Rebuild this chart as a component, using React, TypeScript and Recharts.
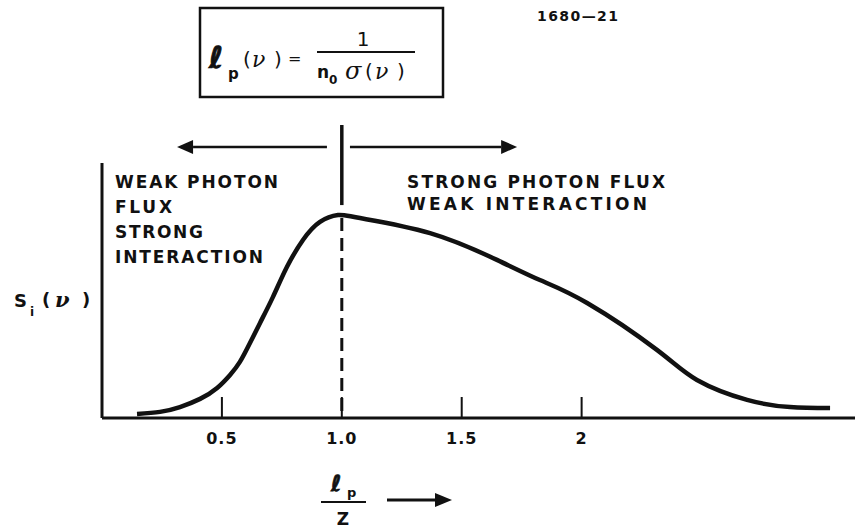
import React from "react";
import { ComposedChart, Line, XAxis, YAxis, ReferenceLine } from "recharts";

// curve samples: x = l_p / Z, s = S_i(nu) (relative)
const xValues = [0.146, 0.242, 0.325, 0.409, 0.48, 0.534, 0.575, 0.617, 0.659, 0.713, 0.771, 0.838, 0.909, 0.984, 1.076, 1.368, 1.647, 1.826, 2.023, 2.314, 2.481, 2.69, 2.869, 3.036];
const sValues = [0.016, 0.024, 0.043, 0.075, 0.118, 0.169, 0.22, 0.294, 0.373, 0.475, 0.592, 0.698, 0.769, 0.796, 0.784, 0.725, 0.62, 0.541, 0.451, 0.267, 0.149, 0.071, 0.043, 0.039];

const tickValues = [0.5, 1.0, 1.5, 2];
const tickLabels = ["0.5", "1.0", "1.5", "2"];

const peakX = 1.0;
const arrowY = 1.063;
const leftArrow = [0.938, 0.313];
const rightArrow = [1.034, 1.731];
const solidMark = [1.149, 0.835];
const dashedMark = [0.784, 0];

const data = xValues.map((x, i) => ({ x, s: sValues[i] }));

const INK = "#111";
const FONT = "'DejaVu Sans', 'Liberation Sans', sans-serif";
const SERIF = "'DejaVu Serif', serif";

function XTick(props: any) {
  const { x, y, payload } = props;
  const idx = tickValues.indexOf(payload.value);
  const label = idx >= 0 ? tickLabels[idx] : String(payload.value);
  return (
    <g>
      <line x1={x} x2={x} y1={y} y2={y - 21} stroke={INK} strokeWidth={2} />
      <text x={x} y={y + 26} textAnchor="middle" fontFamily={FONT} fontWeight="bold" fontSize={16} fill={INK} letterSpacing={1}>
        {label}
      </text>
    </g>
  );
}

function ArrowShape(props: any) {
  const { x1, y1, x2, y2 } = props;
  const dx = x2 - x1;
  const dy = y2 - y1;
  const len = Math.sqrt(dx * dx + dy * dy) || 1;
  const ux = dx / len;
  const uy = dy / len;
  const hl = 16;
  const hw = 7;
  const bx = x2 - ux * hl;
  const by = y2 - uy * hl;
  const pts = `${x2},${y2} ${bx - uy * hw},${by + ux * hw} ${bx + uy * hw},${by - ux * hw}`;
  return (
    <g>
      <line x1={x1} y1={y1} x2={bx} y2={by} stroke={INK} strokeWidth={2.5} />
      <polygon points={pts} fill={INK} />
    </g>
  );
}

export default function App() {
  return (
    <div style={{ position: "absolute", left: 0, top: 0, width: 855, height: 529, background: "#fff" }}>
      <ComposedChart width={855} height={529} data={data} margin={{ top: 163, right: 0, bottom: 0, left: 0 }}>
        <XAxis
          type="number"
          dataKey="x"
          domain={[0, 3.14]}
          ticks={tickValues}
          interval={0}
          height={111}
          tickSize={0}
          tickMargin={0}
          tickLine={false}
          tick={<XTick />}
          axisLine={{ stroke: INK, strokeWidth: 3 }}
          allowDataOverflow
        />
        <YAxis
          type="number"
          domain={[0, 1]}
          width={102}
          tick={false}
          tickLine={false}
          axisLine={{ stroke: INK, strokeWidth: 3 }}
          allowDataOverflow
        />
        <ReferenceLine
          segment={[{ x: peakX, y: dashedMark[0] }, { x: peakX, y: dashedMark[1] }]}
          stroke={INK}
          strokeWidth={3}
          strokeDasharray="13 7"
          ifOverflow="visible"
        />
        <ReferenceLine
          segment={[{ x: peakX, y: solidMark[0] }, { x: peakX, y: solidMark[1] }]}
          stroke={INK}
          strokeWidth={3.5}
          ifOverflow="visible"
        />
        <ReferenceLine
          segment={[{ x: leftArrow[0], y: arrowY }, { x: leftArrow[1], y: arrowY }]}
          ifOverflow="visible"
          shape={ArrowShape}
        />
        <ReferenceLine
          segment={[{ x: rightArrow[0], y: arrowY }, { x: rightArrow[1], y: arrowY }]}
          ifOverflow="visible"
          shape={ArrowShape}
        />
        <Line
          type="natural"
          dataKey="s"
          stroke={INK}
          strokeWidth={4.5}
          dot={false}
          isAnimationActive={false}
        />
      </ComposedChart>
      <svg width={855} height={529} style={{ position: "absolute", left: 0, top: 0, pointerEvents: "none" }} fontFamily={FONT} fill={INK}>
        {/* formula box */}
        <rect x={200} y={8} width={243} height={89} fill="none" stroke={INK} strokeWidth={2.5} />
        <text x={209} y={68} fontSize={30} fontWeight="bold" fontStyle="italic" fontFamily={FONT} stroke={INK} strokeWidth={1}>ℓ</text>
        <text x={228} y={79} fontSize={15} fontWeight="bold">p</text>
        <text x={243} y={66} fontSize={20}>(</text>
        <text x={252} y={67} fontSize={22} fontStyle="italic" fontFamily={SERIF}>ν</text>
        <text x={274} y={66} fontSize={20}>)</text>
        <text x={288} y={64} fontSize={16}>=</text>
        <text x={363} y={46} fontSize={20} textAnchor="middle">1</text>
        <line x1={317} x2={415} y1={52} y2={52} stroke={INK} strokeWidth={2} />
        <text x={317} y={78} fontSize={17} fontWeight="bold">n</text>
        <text x={329} y={84} fontSize={12} fontWeight="bold">0</text>
        <text x={345} y={79} fontSize={24} fontStyle="italic" fontFamily={SERIF}>σ</text>
        <text x={365} y={78} fontSize={20}>(</text>
        <text x={375} y={79} fontSize={22} fontStyle="italic" fontFamily={SERIF}>ν</text>
        <text x={397} y={78} fontSize={20}>)</text>
        {/* figure number */}
        <text x={537} y={21} fontSize={14} fontWeight="bold" textLength={81} lengthAdjust="spacing">1680—21</text>
        {/* region labels */}
        <g fontSize={17} fontWeight="bold">
          <text x={115} y={188} textLength={163} lengthAdjust="spacing">WEAK PHOTON</text>
          <text x={115} y={213} textLength={57} lengthAdjust="spacing">FLUX</text>
          <text x={115} y={238} textLength={88} lengthAdjust="spacing">STRONG</text>
          <text x={115} y={263} textLength={148} lengthAdjust="spacing">INTERACTION</text>
          <text x={407} y={188} textLength={258} lengthAdjust="spacing">STRONG PHOTON FLUX</text>
          <text x={407} y={210} textLength={240} lengthAdjust="spacing">WEAK INTERACTION</text>
        </g>
        {/* y-axis label */}
        <text x={14} y={307} fontSize={18} fontWeight="bold">S</text>
        <text x={30} y={316} fontSize={12} fontWeight="bold">i</text>
        <text x={42} y={306} fontSize={18} fontWeight="bold">(</text>
        <text x={55} y={307} fontSize={21} fontStyle="italic" fontWeight="bold" fontFamily={SERIF}>ν</text>
        <text x={82} y={306} fontSize={18} fontWeight="bold">)</text>
        {/* x-axis label */}
        <text x={331} y={491} fontSize={22} fontWeight="bold" fontStyle="italic" fontFamily={FONT} stroke={INK} strokeWidth={0.8}>ℓ</text>
        <text x={347} y={497} fontSize={13} fontWeight="bold">p</text>
        <line x1={321} x2={366} y1={502} y2={502} stroke={INK} strokeWidth={2} />
        <text x={343} y={525} fontSize={17} fontWeight="bold" textAnchor="middle">Z</text>
        <line x1={387} x2={437} y1={500} y2={500} stroke={INK} strokeWidth={3} />
        <polygon points="452,500 435,493 435,507" fill={INK} />
      </svg>
    </div>
  );
}
